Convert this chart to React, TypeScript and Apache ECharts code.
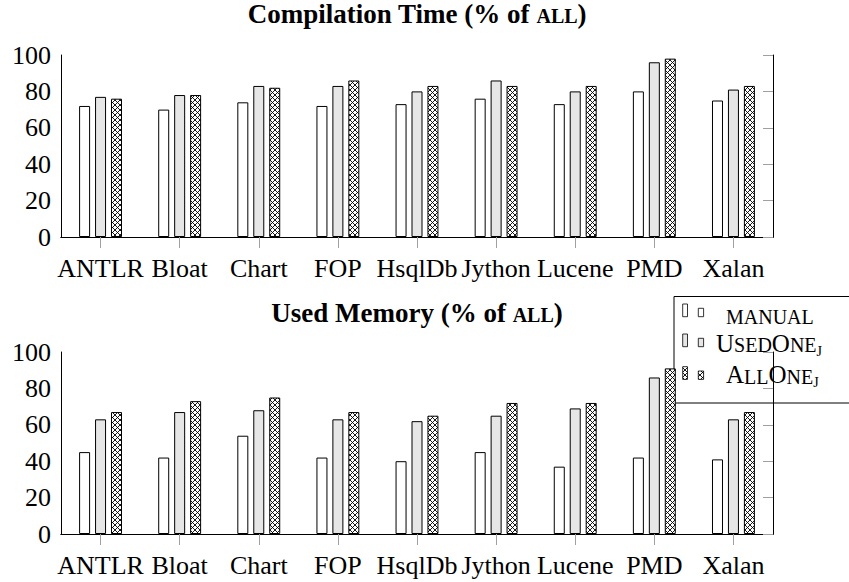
import React, { useEffect, useRef } from 'react';
import * as echarts from 'echarts';

const categories = ['ANTLR', 'Bloat', 'Chart', 'FOP', 'HsqlDb', 'Jython', 'Lucene', 'PMD', 'Xalan'];
const compileManual = [72, 70, 74, 72, 73, 76, 73, 80, 75];
const compileUsedOne = [77, 78, 83, 83, 80, 86, 80, 96, 81];
const compileAllOne = [76, 78, 82, 86, 83, 83, 83, 98, 83];
const memoryManual = [45, 42, 54, 42, 40, 45, 37, 42, 41];
const memoryUsedOne = [63, 67, 68, 63, 62, 65, 69, 86, 63];
const memoryAllOne = [67, 73, 75, 67, 65, 72, 72, 91, 67];
const yMin = 0;
const yMax = 100;
const yStep = 20;

const FONT = 'Liberation Serif, serif';
const GRAY_FILL = '#e6e6e6';
const TICK_GRAY = '#a0a0a0';

function makeHatch() {
  const s = 5;
  const c = document.createElement('canvas');
  c.width = s;
  c.height = s;
  const ctx = c.getContext('2d');
  if (ctx) {
    ctx.fillStyle = '#ffffff';
    ctx.fillRect(0, 0, s, s);
    ctx.strokeStyle = '#000000';
    ctx.lineWidth = 0.9;
    ctx.beginPath();
    ctx.moveTo(-1, -1);
    ctx.lineTo(s + 1, s + 1);
    ctx.moveTo(s + 1, -1);
    ctx.lineTo(-1, s + 1);
    ctx.stroke();
  }
  return { image: c, repeat: 'repeat', imageWidth: s, imageHeight: s } as any;
}

export default function App() {
  const ref = useRef<HTMLDivElement>(null);

  useEffect(() => {
    if (!ref.current) return;
    const chart = echarts.init(ref.current, null, { renderer: 'svg' });
    const hatch = makeHatch();
    const fills = ['#ffffff', GRAY_FILL, hatch];

    const grids = [
      { left: 61, top: 55, width: 712, height: 182 },
      { left: 61, top: 352, width: 712, height: 182 },
    ];

    const xAxes: any[] = [];
    const yAxes: any[] = [];
    grids.forEach((_, gi) => {
      xAxes.push({
        type: 'category',
        gridIndex: gi,
        data: categories,
        position: 'bottom',
        axisLine: { show: true, lineStyle: { color: '#000', width: 1 } },
        axisTick: { show: true, alignWithLabel: true, length: 11, inside: false, lineStyle: { color: TICK_GRAY, width: 1 } },
        axisLabel: { show: true, interval: 0, margin: 18, color: '#000', fontFamily: FONT, fontSize: 26 },
        splitLine: { show: false },
      });
      xAxes.push({
        type: 'category',
        gridIndex: gi,
        data: categories,
        position: 'top',
        axisLine: { show: true, lineStyle: { color: '#000', width: 1 } },
        axisTick: { show: true, alignWithLabel: true, length: 11, inside: false, lineStyle: { color: TICK_GRAY, width: 1 } },
        axisLabel: { show: false },
        splitLine: { show: false },
      });
      yAxes.push({
        type: 'value',
        gridIndex: gi,
        position: 'left',
        min: yMin,
        max: yMax,
        interval: yStep,
        axisLine: { show: true, lineStyle: { color: '#000', width: 1 } },
        axisTick: { show: false },
        axisLabel: { show: true, margin: 10, color: '#000', fontFamily: FONT, fontSize: 26 },
        splitLine: { show: false },
      });
      yAxes.push({
        type: 'value',
        gridIndex: gi,
        position: 'right',
        min: yMin,
        max: yMax,
        interval: yStep,
        axisLine: { show: true, lineStyle: { color: '#000', width: 1 } },
        axisTick: { show: true, inside: true, length: 10, lineStyle: { color: TICK_GRAY, width: 1 } },
        axisLabel: { show: false },
        splitLine: { show: false },
      });
    });

    const seriesData = [
      [compileManual, compileUsedOne, compileAllOne],
      [memoryManual, memoryUsedOne, memoryAllOne],
    ];
    const names = ['manual', 'UsedOne', 'AllOne'];
    const series: any[] = [];
    seriesData.forEach((group, gi) => {
      group.forEach((vals, si) => {
        series.push({
          type: 'bar',
          name: names[si],
          xAxisIndex: gi * 2,
          yAxisIndex: gi * 2,
          data: vals,
          barWidth: 11,
          barGap: '45%',
          itemStyle: { color: fills[si], borderColor: '#000', borderWidth: 1 },
          emphasis: { disabled: true },
        });
      });
    });

    const titleRich = {
      b: { fontFamily: FONT, fontSize: 27, fontWeight: 'bold', verticalAlign: 'middle', fill: '#000' },
      s: { fontFamily: FONT, fontSize: 20, fontWeight: 'bold', verticalAlign: 'middle', padding: [4.7, 0, 0, 0], fill: '#000' },
    };
    const legRich = {
      b: { fontFamily: FONT, fontSize: 25, verticalAlign: 'middle', fill: '#000' },
      s: { fontFamily: FONT, fontSize: 20, verticalAlign: 'middle', padding: [3.4, 0, 0, 0], fill: '#000' },
      j: { fontFamily: FONT, fontSize: 14, verticalAlign: 'middle', padding: [16, 0, 0, 0], fill: '#000' },
      m: { fontFamily: FONT, fontSize: 20, verticalAlign: 'middle', fill: '#000' },
    };

    const legendTops = [304, 334, 366.7];
    const legendTexts = ['{m|MANUAL}', '{b|U}{s|SED}{b|O}{s|NE}{j|J}', '{b|A}{s|LL}{b|O}{s|NE}{j|J}'];
    const legendTextX = [726, 716, 726];
    const legendTextY = [316.5, 343.3, 374.9];

    const legendChildren: any[] = [
      {
        type: 'rect',
        shape: { x: 674, y: 296.5, width: 185, height: 106.5 },
        style: { fill: '#fff', stroke: '#000', lineWidth: 1 },
      },
    ];
    legendTops.forEach((t, i) => {
      legendChildren.push({
        type: 'rect',
        shape: { x: 682.7, y: t, width: 4.8, height: 12.7 },
        style: { fill: fills[i], stroke: '#000', lineWidth: 0.8 },
      });
      legendChildren.push({
        type: 'rect',
        shape: { x: 698.3, y: t + 4.3, width: 5.3, height: 8.4 },
        style: { fill: fills[i], stroke: '#000', lineWidth: 0.8 },
      });
      legendChildren.push({
        type: 'text',
        x: legendTextX[i],
        y: legendTextY[i],
        style: {
          text: legendTexts[i],
          rich: legRich,
          fill: '#000',
          fontFamily: FONT,
          fontSize: 20,
          align: 'left',
          verticalAlign: 'middle',
        },
      });
    });

    chart.setOption({
      animation: false,
      backgroundColor: '#fff',
      grid: grids,
      xAxis: xAxes,
      yAxis: yAxes,
      series,
      graphic: [
        {
          type: 'text',
          x: 417,
          y: 13.9,
          z: 50,
          style: {
            text: '{b|Compilation Time (% of }{s|ALL}{b|)}',
            rich: titleRich,
            fill: '#000',
            fontFamily: FONT,
            fontSize: 27,
            fontWeight: 'bold',
            align: 'center',
            verticalAlign: 'middle',
          },
        },
        {
          type: 'text',
          x: 417,
          y: 312.6,
          z: 50,
          style: {
            text: '{b|Used Memory (% of }{s|ALL}{b|)}',
            rich: titleRich,
            fill: '#000',
            fontFamily: FONT,
            fontSize: 27,
            fontWeight: 'bold',
            align: 'center',
            verticalAlign: 'middle',
          },
        },
        {
          type: 'group',
          z: 100,
          children: legendChildren,
        },
      ],
    });

    return () => {
      chart.dispose();
    };
  }, []);

  return (
    <div
      ref={ref}
      style={{ position: 'fixed', left: 0, top: 0, width: 849, height: 582, background: '#fff' }}
    />
  );
}
